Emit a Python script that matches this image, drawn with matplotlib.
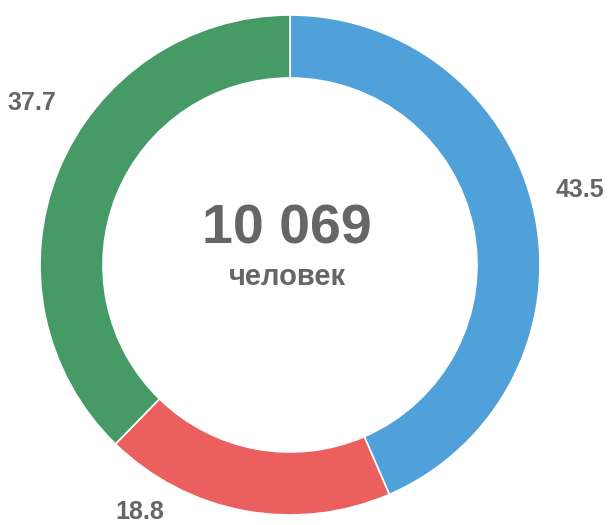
import matplotlib.pyplot as plt

# data
values = [43.5, 18.8, 37.7]
labels = ["43.5", "18.8", "37.7"]
colors = ["#50a0da", "#eb5f5f", "#459a66"]
total_text = "10 069"
unit_text = "человек"

# label positions in pixel coords (x, y from top)
label_pos = [(580, 190), (140, 512), (32, 103)]

W, H = 608, 525
fig = plt.figure(figsize=(W / 100, H / 100), dpi=100)
ax = fig.add_axes([0, 0, 1, 1])
ax.set_xlim(0, W)
ax.set_ylim(0, H)
ax.set_aspect("equal")
ax.axis("off")

cx, cy = 290, H - 265
ax.pie(values, colors=colors, startangle=90, counterclock=False,
       center=(cx, cy), radius=250, frame=True,
       wedgeprops=dict(width=63, edgecolor="white", linewidth=1.2))
ax.set_xlim(0, W)
ax.set_ylim(0, H)
ax.axis("off")

font = ["Liberation Sans", "DejaVu Sans"]
grey = "#666666"
for (x, y), txt in zip(label_pos, labels):
    ax.text(x, H - y, txt, ha="center", va="center", fontsize=18,
            fontweight="bold", color=grey, family=font)

ax.text(287, H - 230, total_text, ha="center", va="center", fontsize=40,
        fontweight="bold", color=grey, family=font)
ax.text(287, H - 277, unit_text, ha="center", va="center", fontsize=21,
        fontweight="bold", color=grey, family=font)

fig.savefig("out.png", dpi=100)
